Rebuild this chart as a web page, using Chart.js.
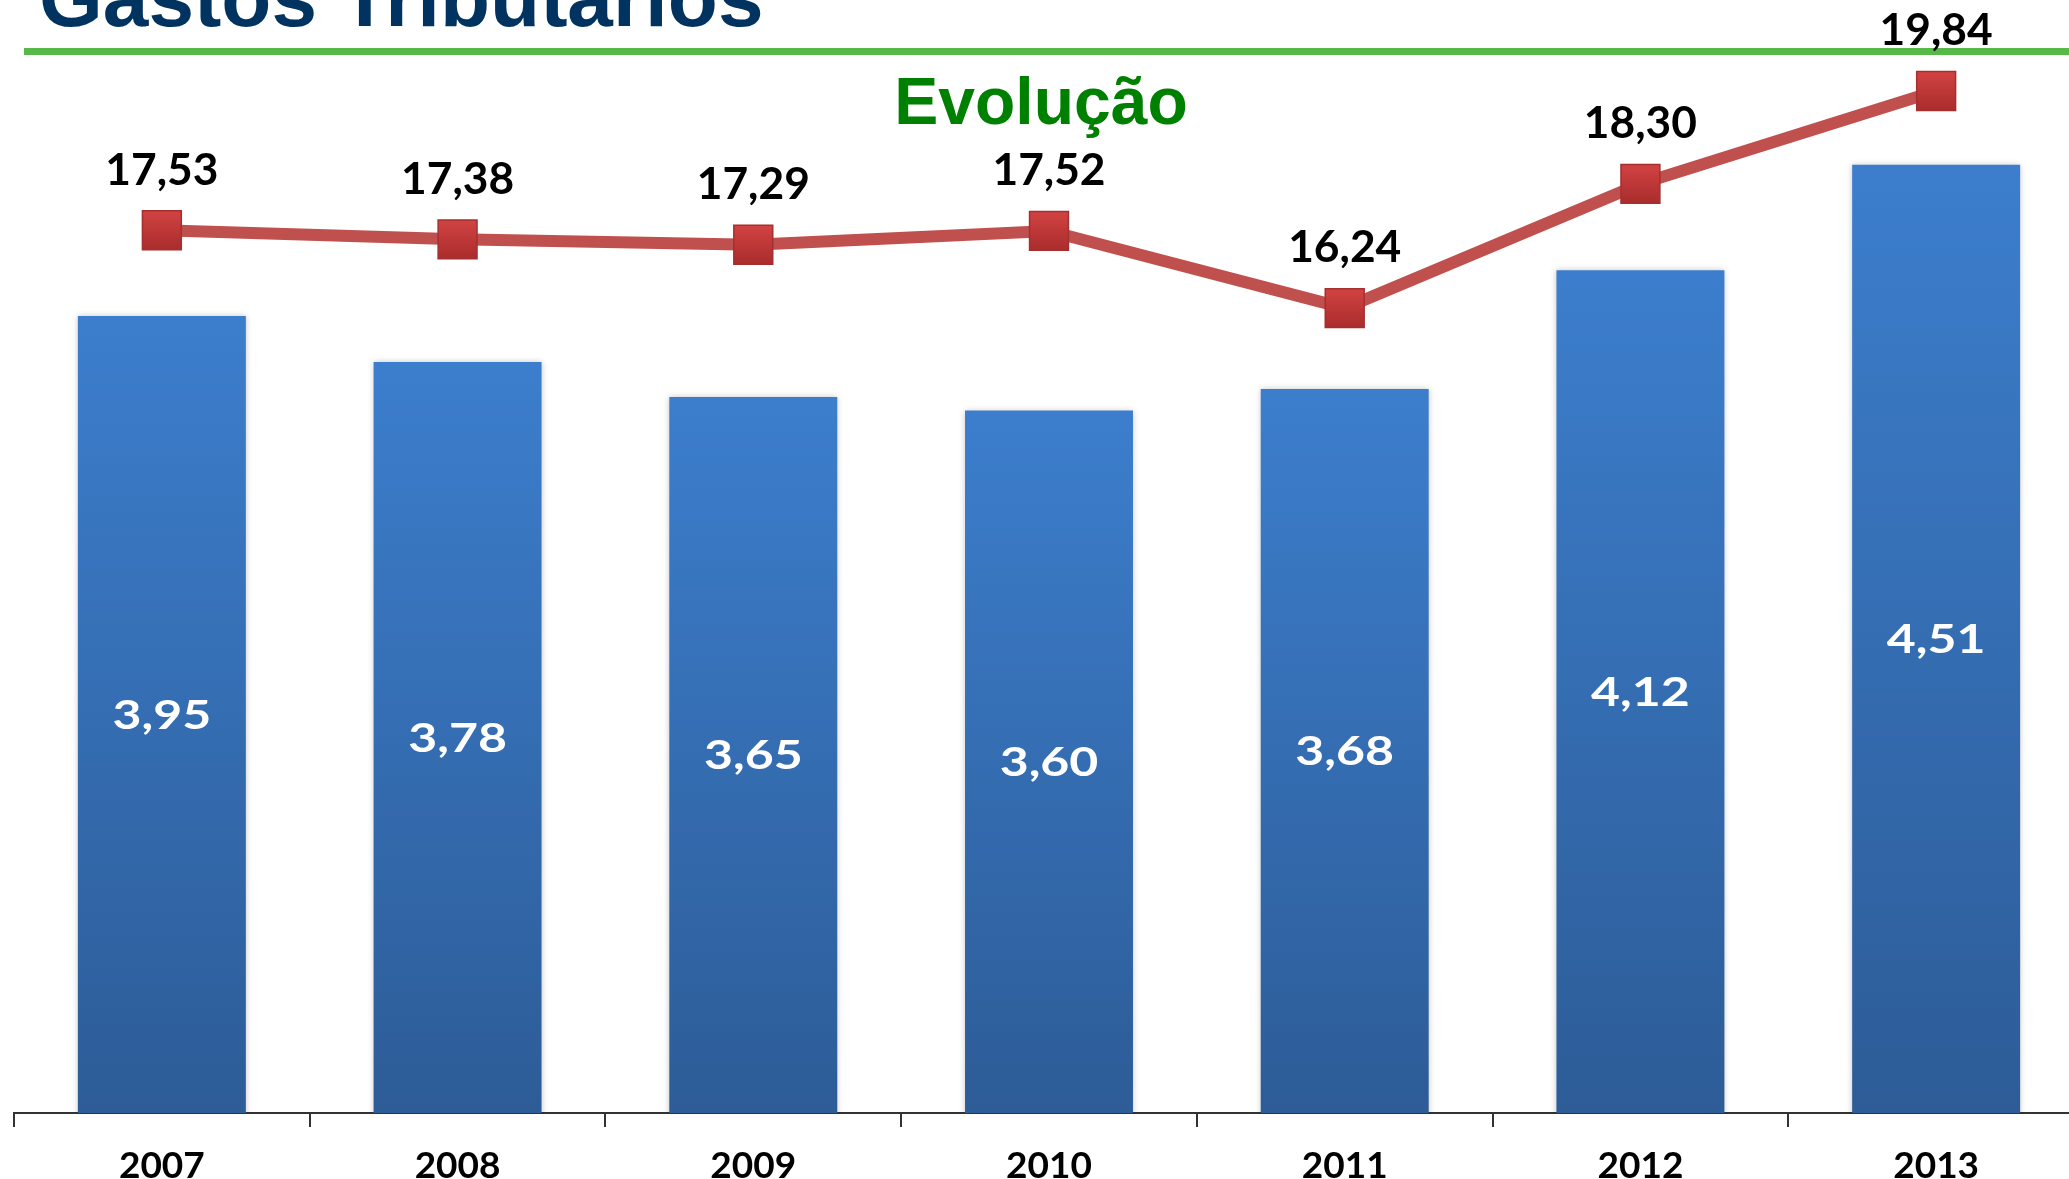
<!DOCTYPE html>
<html>
<head>
<meta charset="utf-8">
<script src="https://cdn.jsdelivr.net/npm/chart.js@4.4.1/dist/chart.umd.min.js"></script>
<style>
  html, body { margin: 0; padding: 0; background: #fff; width: 2069px; height: 1179px; overflow: hidden; }
  #page { position: relative; width: 2069px; height: 1179px; overflow: hidden; }
  #titulo { position: absolute; left: 39px; top: -43px; font: bold 82px "Liberation Sans", Arial, sans-serif; line-height: 82px; color: #00335f; white-space: nowrap; }
  #regua { position: absolute; left: 24px; right: 0; top: 48px; height: 7px; background: #56b948; }
  #subtitulo { position: absolute; left: 1041px; top: 68px; transform: translateX(-50%); font: bold 66px "Liberation Sans", Arial, sans-serif; line-height: 66px; color: #008000; white-space: nowrap; }
  #grafico { position: absolute; left: 0; top: 0; }
</style>
</head>
<body>
<div id="page">
  <div id="titulo">Gastos Tributários</div>
  <div id="regua"></div>
  <div id="subtitulo">Evolução</div>
  <canvas id="grafico" width="2084" height="1179"></canvas>
</div>
<script>
// dados do gráfico
const anos = ['2007', '2008', '2009', '2010', '2011', '2012', '2013'];
const gastosPib = [3.95, 3.78, 3.65, 3.60, 3.68, 4.12, 4.51];          // barras
const gastosArrecadacao = [17.53, 17.38, 17.29, 17.52, 16.24, 18.30, 19.84]; // linha

const fmt = (v) => v.toFixed(2).replace('.', ',');

// rótulos de valor (barras: branco no meio, linha: acima do marcador)
const rotulos = {
    id: 'rotulos',
    afterDatasetsDraw(chart) {
        const ctx = chart.ctx;
        const area = chart.chartArea;
        chart.data.datasets.forEach((ds, i) => {
            const meta = chart.getDatasetMeta(i);
            meta.data.forEach((el, j) => {
                const txt = fmt(ds.data[j]);
                ctx.save();
                ctx.textAlign = 'center';
                ctx.textBaseline = 'alphabetic';
                if (ds.type === 'bar') {
                    const yc = (el.y + Math.min(el.base, area.bottom)) / 2;
                    ctx.font = 'bold 40px Lato';
                    ctx.fillStyle = '#ffffff';
                    ctx.translate(el.x, yc);
                    ctx.scale(1.25, 1);
                    ctx.fillText(txt, 0, 0.358 * 40);
                } else {
                    ctx.font = 'bold 43px Lato';
                    ctx.fillStyle = '#000000';
                    ctx.translate(el.x, el.y - 61);
                    ctx.scale(1.03, 1);
                    ctx.fillText(txt, 0, 0.358 * 43);
                }
                ctx.restore();
            });
        });
    }
};

// leve sombra nas barras
const sombra = {
    id: 'sombra',
    beforeDatasetDraw(chart, args) {
        if (args.meta.type !== 'bar') return;
        chart.ctx.save();
        chart.ctx.shadowColor = 'rgba(0,0,0,0.22)';
        chart.ctx.shadowBlur = 6;
    },
    afterDatasetDraw(chart, args) {
        if (args.meta.type !== 'bar') return;
        chart.ctx.restore();
    }
};

function desenhar() {
    new Chart(document.getElementById('grafico').getContext('2d'), {
        data: {
            labels: anos,
            datasets: [
                {
                    type: 'line',
                    data: gastosArrecadacao,
                    yAxisID: 'yLinha',
                    order: 0,
                    borderColor: '#c0504d',
                    borderWidth: 12,
                    tension: 0,
                    pointStyle: 'rect',
                    pointRadius: 27.5,
                    pointBackgroundColor: (c) => {
                        if (!c.chart.chartArea || c.type !== 'data') return '#c63a3a';
                        const y = c.chart.scales.yLinha.getPixelForValue(c.parsed.y);
                        const g = c.chart.ctx.createLinearGradient(0, y - 20, 0, y + 20);
                        g.addColorStop(0, '#d24343');
                        g.addColorStop(1, '#a92c2c');
                        return g;
                    },
                    pointBorderColor: '#a52f2f',
                    pointBorderWidth: 1.5
                },
                {
                    type: 'bar',
                    data: gastosPib,
                    yAxisID: 'yBarra',
                    order: 1,
                    barPercentage: 0.568,
                    categoryPercentage: 1,
                    backgroundColor: (c) => {
                        const area = c.chart.chartArea;
                        if (!area || c.type !== 'data') return '#3570b8';
                        const y = c.chart.scales.yBarra.getPixelForValue(c.parsed.y);
                        const g = c.chart.ctx.createLinearGradient(0, y, 0, area.bottom);
                        g.addColorStop(0, '#3c7ecd');
                        g.addColorStop(1, '#2d5c97');
                        return g;
                    }
                }
            ]
        },
        options: {
            responsive: false,
            animation: false,
            layout: { autoPadding: false, padding: { left: 14, right: 0, top: 0, bottom: 0 } },
            plugins: { legend: { display: false }, tooltip: { enabled: false } },
            scales: {
                x: {
                    type: 'category',
                    offset: true,
                    grid: { offset: true, drawOnChartArea: false, drawTicks: true, tickLength: 14, color: '#333', lineWidth: 2 },
                    border: { display: true, color: '#333', width: 2 },
                    ticks: { color: '#000', font: { family: 'Lato', weight: 'bold', size: 37 }, padding: 17, maxRotation: 0 },
                    afterFit(s) { s.height = 66; }
                },
                yBarra: { display: false, min: 1, max: 5.12 },
                yLinha: { display: false, min: 2.89, max: 21.35 }
            }
        },
        plugins: [sombra, rotulos]
    });
}

document.fonts.load('bold 40px Lato').then(desenhar, desenhar);
</script>
</body>
</html>
